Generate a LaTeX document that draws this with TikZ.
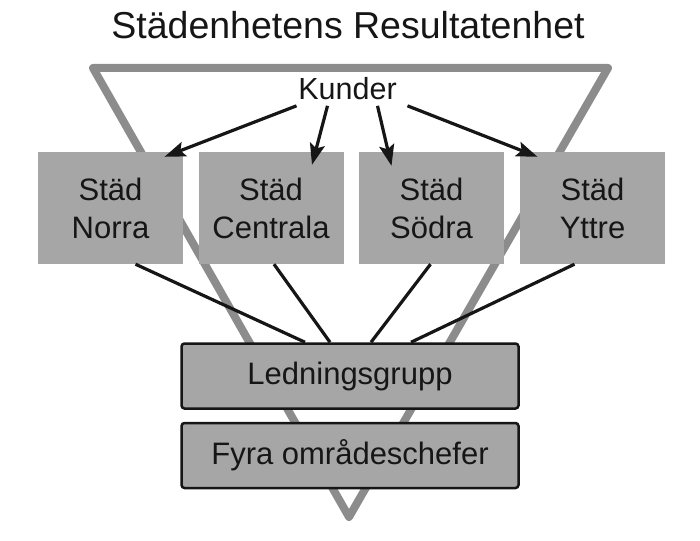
\documentclass[tikz,border=0pt]{standalone}
\usepackage{fontspec}
\setmainfont{Liberation Sans}
\usetikzlibrary{arrows.meta, positioning}
\definecolor{trigray}{RGB}{140,140,140}
\definecolor{boxgray}{RGB}{166,166,166}
\definecolor{inkdark}{RGB}{22,22,22}
\tikzset{
  unit/.style={rectangle, fill=boxgray, minimum width=145pt, minimum height=112pt,
    align=center, inner sep=0pt, text=inkdark,
    font=\fontsize{31}{38}\selectfont},
  mgmt/.style={rectangle, draw=inkdark, fill=boxgray, line width=2.5pt,
    rounded corners=3pt, minimum width=337pt, minimum height=65pt,
    inner sep=0pt, text=inkdark, font=\fontsize{31}{34}\selectfont},
  arrow/.style={-{Stealth[length=21pt, width=15pt, inset=4pt]}, line width=3.2pt, color=inkdark},
  line/.style={line width=3.2pt, color=inkdark}
}

\begin{document}
\begin{tikzpicture}[x=1pt, y=-1pt]
  \useasboundingbox (0,0) rectangle (700,540);

  % Title
  \node (title) at (348, 39) [anchor=base, text=inkdark,
    font=\fontsize{37.5}{42}\selectfont] {Städenhetens Resultatenhet};

  % Inverted triangle behind everything
  \draw[trigray, line width=8pt, line join=round, line cap=round]
    (93, 68) -- (608, 68) -- (349, 517) -- cycle;

  % Customers
  \node (kund) at (347.5, 100) [anchor=base, text=inkdark,
    font=\fontsize{30.5}{34}\selectfont] {Kunder};

  % Four cleaning units
  \node[unit] (norra)    at (110.5, 208) {Städ\\Norra};
  \node[unit] (centrala) at (271, 208)   {Städ\\Centrala};
  \node[unit] (sodra)    at (431.5, 208) {Städ\\Södra};
  \node[unit] (yttre)    at (592.5, 208) {Städ\\Yttre};

  % Arrows from customers to units
  \draw[arrow] ([xshift=-51pt, yshift=-2pt]kund.south) -- ([xshift=54pt, yshift=-5pt]norra.north);
  \draw[arrow] ([xshift=-20pt, yshift=-2pt]kund.south) -- ([xshift=41pt, yshift=-13pt]centrala.north);
  \draw[arrow] ([xshift=30pt, yshift=-2pt]kund.south)  -- ([xshift=-40pt, yshift=-14pt]sodra.north);
  \draw[arrow] ([xshift=60pt, yshift=-2pt]kund.south)  -- ([xshift=-55pt, yshift=-5pt]yttre.north);

  % Management
  \node[mgmt] (ledn) at (350, 376)   {Ledningsgrupp};
  \node[mgmt] (fyra) at (350, 455.5) {Fyra områdeschefer};

  % Lines from units down to management
  \draw[line] ([xshift=25pt]norra.south)    -- ([xshift=-45pt]ledn.north);
  \draw[line] ([xshift=3pt]centrala.south)  -- ([xshift=-20pt]ledn.north);
  \draw[line] ([xshift=-1pt]sodra.south)    -- ([xshift=21pt]ledn.north);
  \draw[line] ([xshift=-18pt]yttre.south)   -- ([xshift=61pt]ledn.north);
\end{tikzpicture}
\end{document}
